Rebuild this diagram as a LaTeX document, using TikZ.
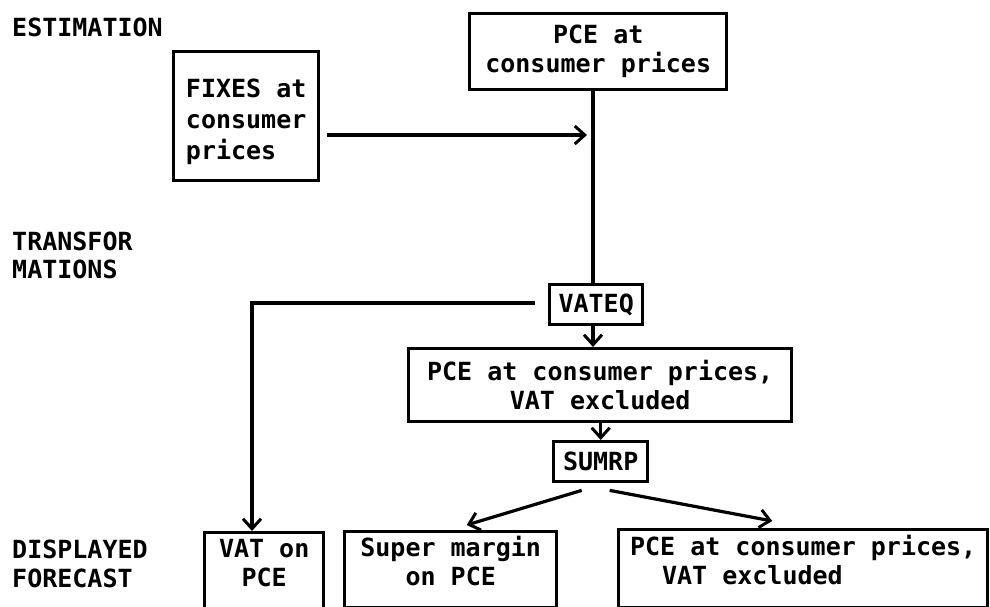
\documentclass[tikz,border=0pt]{standalone}
\usepackage{fontspec}
\setmonofont{DejaVu Sans Mono}
\usetikzlibrary{arrows.meta}
\newcommand{\shiftlines}[3]{\raisebox{#1}[\height][\depth]{\begin{tabular}{@{}#2@{}}#3\end{tabular}}}
\tikzset{
  txt/.style={font=\ttfamily\bfseries\fontsize{25}{29}\selectfont},
  box/.style={draw, line width=3.4pt, inner sep=0pt, anchor=north west, txt, align=center},
  conn/.style={line width=3.2pt},
  arr/.style={conn, -{Straight Barb[length=10pt,width=18pt,line width=3pt]}},
  lab/.style={anchor=base west, inner sep=0pt, txt}
}
\begin{document}
\begin{tikzpicture}[x=1pt,y=-1pt]
\useasboundingbox[fill=white] (0,0) rectangle (990,607);
% labels
\node[lab] (est) at (12,37) {ESTIMATION};
\node[lab] (tr1) at (12,250) {TRANSFOR};
\node[lab] (tr2) at (12,278) {MATIONS};
\node[lab] (dis1) at (12,558) {DISPLAYED};
\node[lab] (dis2) at (12,587) {FORECAST};
% boxes
\node[box, minimum width=145pt, minimum height=129pt] (fixes) at (172,50)
  {\fontsize{25}{31}\selectfont\shiftlines{-6pt}{l}{FIXES at\\consumer\\prices}};
\node[box, minimum width=257pt, minimum height=76pt] (pce1) at (468,12) {PCE at\\consumer prices};
\node[box, minimum width=93pt, minimum height=40pt] (vateq) at (548,283) {VATEQ};
\node[box, minimum width=383pt, minimum height=73pt] (pce2) at (407,347) {PCE at consumer prices,\\VAT excluded};
\node[box, minimum width=94pt, minimum height=40pt] (sumrp) at (552,440) {SUMRP};
\node[box, minimum width=119pt, minimum height=76pt] (vatpce) at (203,531) {\shiftlines{5pt}{c}{VAT on\\PCE}};
\node[box, minimum width=212pt, minimum height=76pt] (super) at (343,530) {\shiftlines{5pt}{c}{Super margin\\on PCE}};
\node[box, minimum width=369pt, minimum height=78pt] (pce3) at (617,528) {\shiftlines{5pt}{l}{PCE at consumer prices,\\\hspace*{32pt}VAT excluded}};
% connectors
\coordinate (j) at (593,135);
\coordinate (c) at (252,303);
\draw[conn] (pce1.south -| j) -- (vateq.north -| j);
\draw[arr] ([xshift=7pt]fixes.east |- j) -- ([xshift=-6pt]j);
\draw[arr] ([xshift=-13pt]vateq.west |- c) -- (c) -- (c |- vatpce.north);
\draw[arr] (vateq.south -| j) -- (pce2.north -| j);
\draw[arr] (pce2.south -| sumrp.north) -- (sumrp.north);
\draw[arr] ([shift={(-19pt,-7pt)}]sumrp.south) -- ([shift={(16pt,5pt)}]super.north);
\draw[arr] ([shift={(9pt,-7pt)}]sumrp.south) -- ([shift={(-31pt,7pt)}]pce3.north);
\end{tikzpicture}
\end{document}
